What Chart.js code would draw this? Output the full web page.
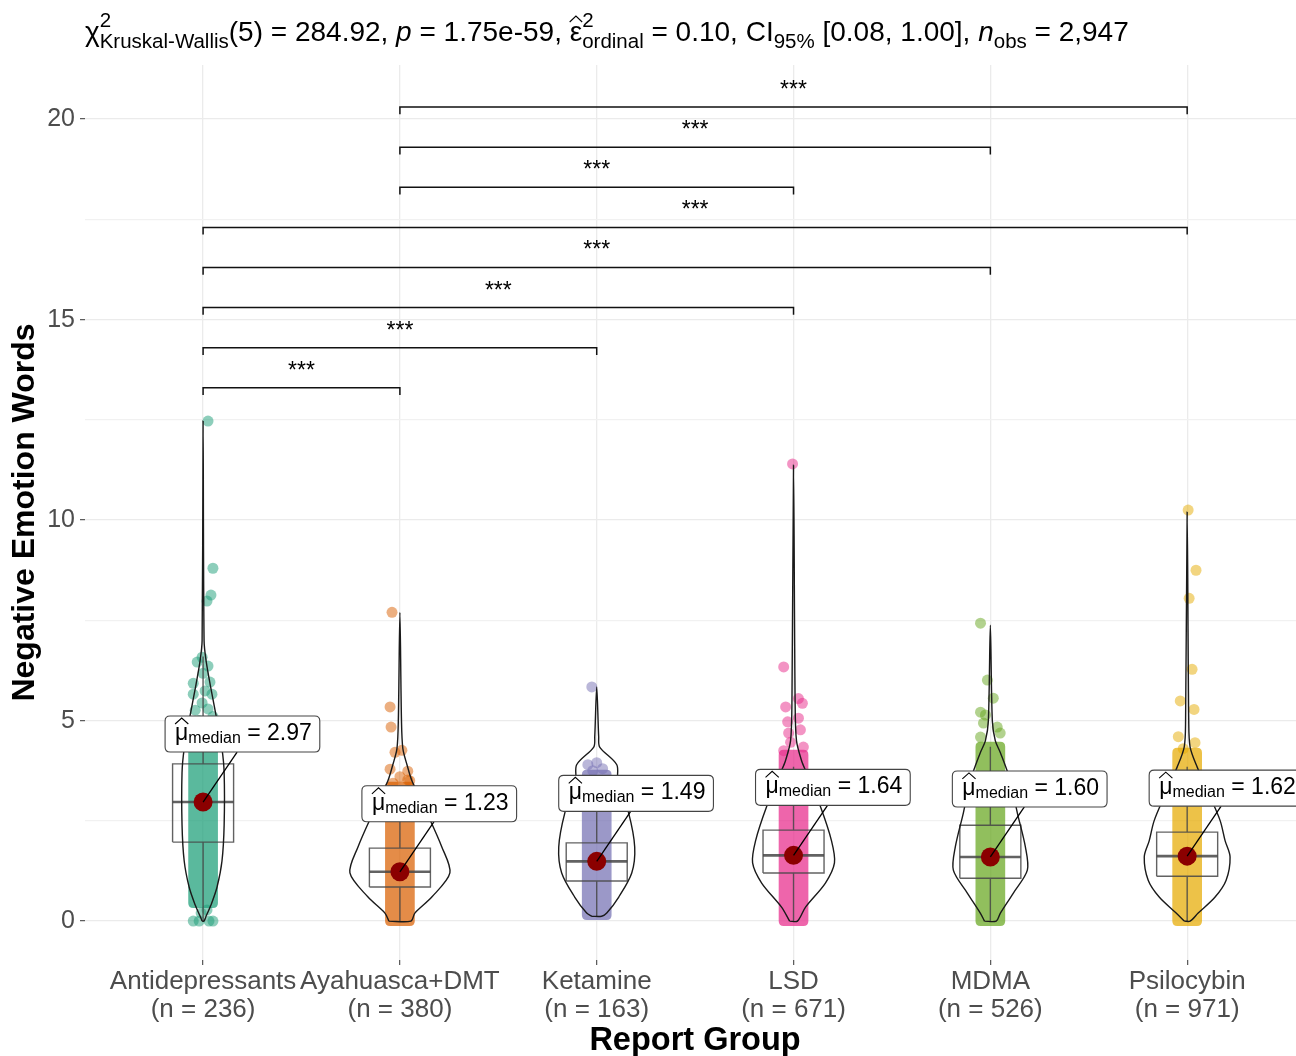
<!DOCTYPE html>
<html><head><meta charset="utf-8">
<script src="https://cdn.jsdelivr.net/npm/chart.js@4.4.1/dist/chart.umd.min.js"></script>
<style>html,body{margin:0;padding:0;overflow:hidden;background:#fff}#wrap{width:1296px;height:1056px}</style>
</head><body><div id="wrap"><canvas id="c" width="1296" height="1056"></canvas></div>
<script>
// ---------------- data ----------------
const groups = ['Antidepressants','Ayahuasca+DMT','Ketamine','LSD','MDMA','Psilocybin'];
const groupN = [236,380,163,671,526,971];
const colors = ['#1B9E77','#D95F02','#7570B3','#E7298A','#66A61E','#E6AB02'];
const medians = [2.97,1.23,1.49,1.64,1.60,1.62];
const q1 = [1.97,0.85,1.00,1.20,1.07,1.12];
const q3 = [3.92,1.82,1.95,2.27,2.39,2.22];
const whiskerLow = [0,0,0.12,0,0,0];
const whiskerHigh = [6.6,3.25,3.35,3.85,4.35,3.85];
// dense jitter cloud extent (values)
const cloudLow = [0.45,0,0.15,0,0,0];
const cloudHigh = [4.9,3.35,3.65,4.15,4.35,4.2];
// individually visible jittered points: values and jitter offsets (category units)
const ptsAntiY  = [12.47,8.8,8.13,7.98,6.58,6.46,6.36,6.18,5.96,5.93,5.74,5.66,5.66,5.44,5.29,5.26,5.1,5.0,0,0,0,0,0.2,0.28];
const ptsAntiDx = [0.025,0.05,0.04,0.02,-0.005,-0.03,0.025,0,0.035,-0.05,0.01,-0.05,0.045,-0.005,0.025,-0.04,0.05,-0.02,-0.05,-0.02,0.03,0.05,-0.01,0.02];
const ptsAyaY  = [7.7,5.34,4.84,4.21,4.26,3.79,3.74,3.52,3.44,3.6,3.5];
const ptsAyaDx = [-0.04,-0.05,-0.045,-0.025,0.01,-0.05,0.04,0.04,-0.035,0.0,0.05];
const ptsKetY  = [5.84,3.95,3.9,3.8,3.75];
const ptsKetDx = [-0.025,0,-0.045,0.03,-0.02];
const ptsLsdY  = [11.4,6.34,5.55,5.43,5.34,5.06,4.97,4.77,4.69,4.46,4.34,4.25];
const ptsLsdDx = [-0.005,-0.05,0.025,0.045,-0.04,0.025,-0.03,0.035,-0.025,-0.015,0.05,-0.05];
const ptsMdmaY  = [7.43,6.01,5.56,5.21,5.14,4.94,4.84,4.69,4.59];
const ptsMdmaDx = [-0.05,-0.015,0.015,-0.05,-0.025,-0.035,0.035,0.05,-0.05];
const ptsPsiY  = [10.25,8.75,8.05,6.28,5.49,5.28,4.6,4.45,4.3];
const ptsPsiDx = [0.005,0.045,0.01,0.025,-0.035,0.035,-0.045,0.04,-0.02];
// violin density profiles: value levels and half-widths (category units)
const vioAntiY = [0,0.12,0.4,0.85,1.5,2.4,3.7,4.3,5.0,5.9,6.5,7.0,12.47];
const vioAntiW = [0.005,0.015,0.04,0.071,0.096,0.107,0.107,0.096,0.071,0.036,0.015,0.005,0];
const vioAyaY = [0,0.2,0.6,1.2,1.85,2.7,3.5,3.9,4.3,5.0,7.7];
const vioAyaW = [0.056,0.076,0.162,0.254,0.213,0.137,0.061,0.036,0.015,0.008,0];
const vioKetY = [0.12,0.2,0.6,1.2,1.85,2.7,3.5,3.9,4.34,4.6,5.84];
const vioKetW = [0.025,0.051,0.112,0.178,0.193,0.162,0.107,0.102,0.015,0.010,0];
const vioLsdY = [0,0.35,0.95,1.45,2.0,2.85,3.7,4.0,4.5,5.5,11.37];
const vioLsdW = [0.02,0.061,0.162,0.208,0.193,0.137,0.066,0.041,0.015,0.008,0];
const vioMdmaY = [0,0.2,0.7,1.27,1.85,2.7,3.5,4.2,4.5,5.0,7.38];
const vioMdmaW = [0.03,0.051,0.117,0.188,0.178,0.137,0.102,0.051,0.025,0.01,0];
const vioPsiY = [0,0.2,0.6,1.02,1.6,2.0,2.5,3.1,3.84,4.34,5.0,10.2];
const vioPsiW = [0.015,0.056,0.142,0.198,0.218,0.193,0.168,0.117,0.051,0.015,0.008,0];
// pairwise comparison brackets
const bracketFrom = [0,0,0,0,0,1,1,1];
const bracketTo   = [1,2,3,4,5,3,4,5];
const bracketY    = [13.3,14.3,15.3,16.3,17.3,18.3,19.3,20.3];
const bracketText = ['***','***','***','***','***','***','***','***'];
const yTicks = [0,2.5,5,7.5,10,12.5,15,17.5,20];

// ---------------- assembly ----------------
const FAM = '"Liberation Sans", Arial, Helvetica, sans-serif';
Chart.defaults.font.family = FAM;
const jitterY = [ptsAntiY,ptsAyaY,ptsKetY,ptsLsdY,ptsMdmaY,ptsPsiY];
const jitterDx = [ptsAntiDx,ptsAyaDx,ptsKetDx,ptsLsdDx,ptsMdmaDx,ptsPsiDx];
const vioY = [vioAntiY,vioAyaY,vioKetY,vioLsdY,vioMdmaY,vioPsiY];
const vioW = [vioAntiW,vioAyaW,vioKetW,vioLsdW,vioMdmaW,vioPsiW];
const JW = 0.05, BOXH = 0.155, TIP = 0.18;

function hexA(h, a) {
  const n = parseInt(h.slice(1), 16);
  return `rgba(${(n>>16)&255},${(n>>8)&255},${n&255},${a})`;
}

const datasets = [];
groups.forEach((g, i) => {
  datasets.push({
    label: g, order: 6, showLine: false,
    data: jitterY[i].map((v, k) => ({x: i + jitterDx[i][k], y: v})),
    backgroundColor: hexA(colors[i], 0.5), borderWidth: 0, pointRadius: 5.5, pointHoverRadius: 5.5
  });
});
const boxData = [], medLine = [];
groups.forEach((g, i) => {
  boxData.push({x:i,y:whiskerLow[i]},{x:i,y:q1[i]},{x:i,y:null},
    {x:i-BOXH,y:q1[i]},{x:i+BOXH,y:q1[i]},{x:i+BOXH,y:q3[i]},{x:i-BOXH,y:q3[i]},{x:i-BOXH,y:q1[i]},{x:i,y:null},
    {x:i,y:q3[i]},{x:i,y:whiskerHigh[i]},{x:i,y:null});
  medLine.push({x:i-BOXH,y:medians[i]},{x:i+BOXH,y:medians[i]},{x:i,y:null});
});
datasets.push({label:'box', order:5, showLine:true, data:boxData, borderColor:'rgba(70,70,70,0.85)', borderWidth:1.4, pointRadius:0, tension:0, spanGaps:false});
datasets.push({label:'boxmed', order:5, showLine:true, data:medLine, borderColor:'rgba(70,70,70,0.85)', borderWidth:2.6, pointRadius:0, tension:0, spanGaps:false});
groups.forEach((g, i) => {
  const ys = vioY[i], ws = vioW[i], n = ys.length, pts = [];
  pts.push({x:i - ws[0], y: ys[0]});
  for (let k = 0; k < n; k++) pts.push({x: i + ws[k], y: ys[k]});
  for (let k = n - 2; k >= 0; k--) pts.push({x: i - ws[k], y: ys[k]});
  datasets.push({label:'violin '+g, order:4, showLine:true, data:pts, borderColor:'#1a1a1a', borderWidth:1.4,
    pointRadius:0, tension:0.3, fill:false});
});
datasets.push({label:'median', order:2, showLine:false, data: medians.map((m,i)=>({x:i,y:m})),
  backgroundColor:'#8B0000', borderWidth:0, pointRadius:9.5, pointHoverRadius:9.5});
const brData = [];
bracketFrom.forEach((a, k) => {
  const b = bracketTo[k], y = bracketY[k];
  brData.push({x:a,y:y-TIP},{x:a,y:y},{x:b,y:y},{x:b,y:y-TIP},{x:b,y:null});
});
datasets.push({label:'brackets', order:1, showLine:true, data:brData, borderColor:'#111', borderWidth:1.5, pointRadius:0, tension:0, spanGaps:false});

function hat(ctx, x0, w, yEnd, yApex) {
  ctx.save(); ctx.strokeStyle = '#000'; ctx.lineWidth = 1.1; ctx.beginPath();
  ctx.moveTo(x0, yEnd); ctx.lineTo(x0 + w/2, yApex); ctx.lineTo(x0 + w, yEnd); ctx.stroke(); ctx.restore();
}
function roundRect(ctx, x, y, w, h, r) {
  ctx.beginPath(); ctx.moveTo(x+r,y); ctx.lineTo(x+w-r,y); ctx.quadraticCurveTo(x+w,y,x+w,y+r);
  ctx.lineTo(x+w,y+h-r); ctx.quadraticCurveTo(x+w,y+h,x+w-r,y+h); ctx.lineTo(x+r,y+h);
  ctx.quadraticCurveTo(x,y+h,x,y+h-r); ctx.lineTo(x,y+r); ctx.quadraticCurveTo(x,y,x+r,y); ctx.closePath();
}

const decor = {
  id: 'decor',
  beforeDatasetsDraw(chart) {
    const ctx = chart.ctx, xs = chart.scales.x, ys = chart.scales.y;
    ctx.save();
    groups.forEach((g, i) => {
      const l = xs.getPixelForValue(i - JW) - 5, r = xs.getPixelForValue(i + JW) + 5;
      const t = ys.getPixelForValue(cloudHigh[i]) - 5, b = ys.getPixelForValue(cloudLow[i]) + 5;
      ctx.fillStyle = hexA(colors[i], 0.72);
      roundRect(ctx, l, t, r - l, b - t, 5); ctx.fill();
    });
    ctx.restore();
  },
  afterDatasetsDraw(chart) {
    const ctx = chart.ctx, xs = chart.scales.x, ys = chart.scales.y;
    ctx.save();
    // median labels
    groups.forEach((g, i) => {
      const cx = xs.getPixelForValue(i), cy = ys.getPixelForValue(medians[i]);
      const L = cx - 38, B = cy - 50, H = 36;
      ctx.font = `23px ${FAM}`; const wMu = ctx.measureText('μ').width;
      ctx.font = `16px ${FAM}`; const wMed = ctx.measureText('median').width;
      const eq = ' = ' + medians[i].toFixed(2);
      ctx.font = `23px ${FAM}`; const wEq = ctx.measureText(eq).width;
      const W = 10 + wMu + wMed + wEq + 8;
      ctx.strokeStyle = '#000'; ctx.lineWidth = 1.3;
      ctx.beginPath(); ctx.moveTo(cx, cy); ctx.lineTo(L + 72, B); ctx.stroke();
      roundRect(ctx, L, B - H, W, H, 5);
      ctx.fillStyle = '#fff'; ctx.fill(); ctx.strokeStyle = '#444'; ctx.lineWidth = 1.1; ctx.stroke();
      ctx.fillStyle = '#000'; ctx.textAlign = 'left'; ctx.textBaseline = 'alphabetic';
      let x = L + 10; const base = B - 12;
      ctx.font = `23px ${FAM}`; ctx.fillText('μ', x, base);
      hat(ctx, x, wMu, base - 16, base - 22);
      x += wMu;
      ctx.font = `16px ${FAM}`; ctx.fillText('median', x, base + 3); x += wMed;
      ctx.font = `23px ${FAM}`; ctx.fillText(eq, x, base);
    });
    // bracket annotations
    ctx.fillStyle = '#000'; ctx.textAlign = 'center'; ctx.textBaseline = 'alphabetic';
    ctx.font = `23px ${FAM}`;
    bracketFrom.forEach((a, k) => {
      const mx = (xs.getPixelForValue(a) + xs.getPixelForValue(bracketTo[k])) / 2;
      ctx.fillText(bracketText[k], mx, ys.getPixelForValue(bracketY[k]) - 10);
    });
    ctx.restore();
  },
  afterDraw(chart) {
    const ctx = chart.ctx;
    ctx.save();
    const M = `28px ${FAM}`, I = `italic 28px ${FAM}`, S = `20.5px ${FAM}`;
    let x = 85; const base = 41, supY = base - 14, subY = base + 7;
    ctx.fillStyle = '#000'; ctx.textBaseline = 'alphabetic'; ctx.textAlign = 'left';
    const t = (s, f, yy) => { ctx.font = f; ctx.fillText(s, x, yy === undefined ? base : yy); const w = ctx.measureText(s).width; x += w; return w; };
    const stack = (sup, sub) => { ctx.font = S; const w1 = ctx.measureText(sup).width, w2 = ctx.measureText(sub).width;
      ctx.fillText(sup, x, supY); ctx.fillText(sub, x, subY); x += Math.max(w1, w2); };
    t('χ', M); stack('2', 'Kruskal-Wallis');
    t('(5) = 284.92, ', M); t('p', I); t(' = 1.75e-59, ', M);
    const ex = x; const we = t('ε', M); hat(ctx, ex, we, base - 19, base - 25); stack('2', 'ordinal');
    t(' = 0.10, CI', M); t('95%', S, subY); t(' [0.08, 1.00], ', M); t('n', I); t('obs', S, subY); t(' = 2,947', M);
    ctx.restore();
  }
};

new Chart(document.getElementById('c'), {
  type: 'scatter',
  data: { datasets },
  options: {
    responsive: false, animation: false, events: [],
    layout: { autoPadding: false, padding: { top: 65, left: 0, right: 0, bottom: 0 } },
    plugins: { legend: { display: false }, tooltip: { enabled: false } },
    scales: {
      x: {
        type: 'linear', min: -0.6, max: 5.553,
        afterBuildTicks: s => { s.ticks = groups.map((g, i) => ({ value: i })); },
        afterFit: s => { s.height = 96; s.paddingLeft = 0; s.paddingRight = 0; },
        grid: { color: '#ebebeb', lineWidth: 1.3, tickLength: 5, tickColor: '#555', tickWidth: 1.2 },
        border: { display: false },
        ticks: { autoSkip: false, maxRotation: 0, padding: 3, color: '#4d4d4d',
          font: { size: 26, lineHeight: 1.08 },
          callback: v => [groups[v], `(n = ${groupN[v]})`] },
        title: { display: true, text: ' Report Group', color: '#000',
          font: { size: 32.5, weight: 'bold', lineHeight: 0.94 }, padding: { top: 0, bottom: 0 } }
      },
      y: {
        type: 'linear', min: -0.97, max: 21.35,
        afterBuildTicks: s => { s.ticks = yTicks.map(v => ({ value: v })); },
        afterFit: s => { s.width = 85; s.paddingTop = 0; s.paddingBottom = 0; },
        grid: { color: ctx => (ctx.tick && ctx.tick.value % 5 === 0) ? '#ebebeb' : '#f1f1f1', lineWidth: 1.3, tickLength: 5,
          tickColor: ctx => (ctx.tick && ctx.tick.value % 5 === 0) ? '#555' : 'rgba(0,0,0,0)', tickWidth: 1.2 },
        border: { display: false },
        ticks: { padding: 5, color: '#4d4d4d', font: { size: 25 },
          callback: v => (v % 5 === 0 ? String(v) : '') },
        title: { display: true, text: 'Negative Emotion Words', color: '#000',
          font: { size: 32, weight: 'bold', lineHeight: 0.94 }, padding: { top: 10, bottom: 0 } }
      }
    }
  },
  plugins: [decor]
});
</script></body></html>
